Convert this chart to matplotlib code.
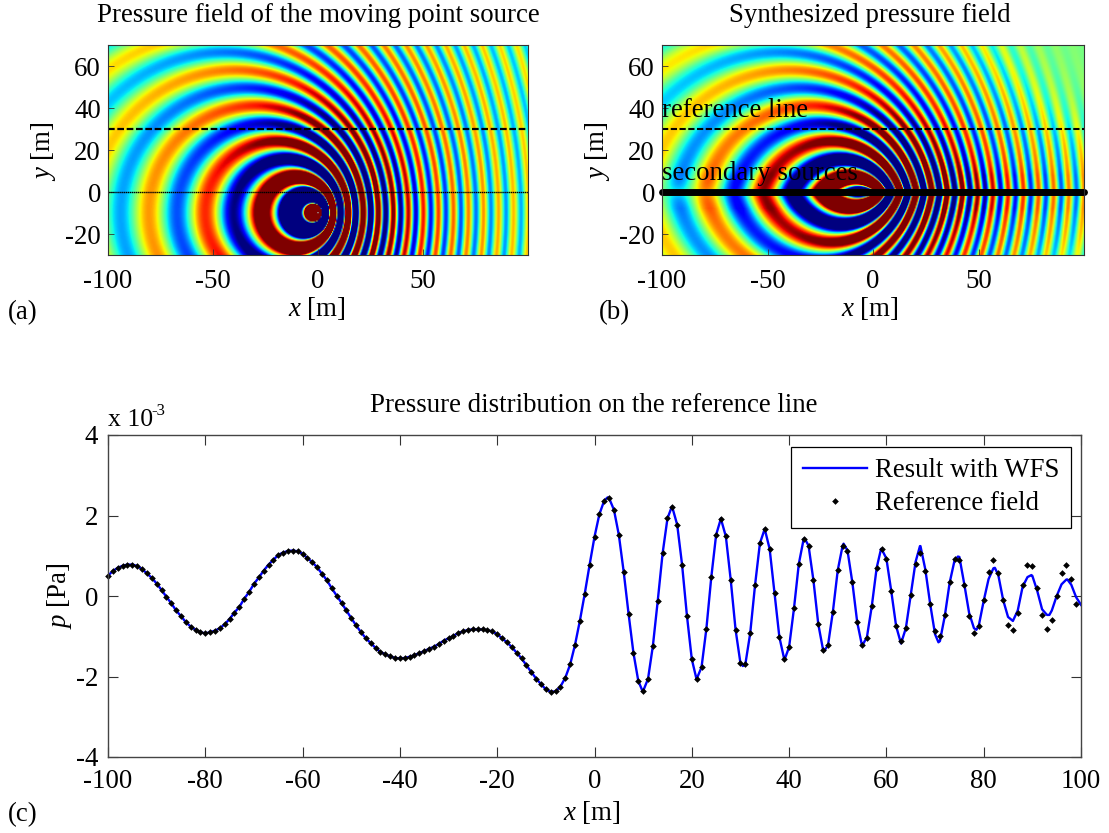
import matplotlib
matplotlib.use('Agg')
import matplotlib.pyplot as plt
import numpy as np
from math import erf

W, H = 1109, 833

# panel (c), in units of 1e-3 Pa, one marker per metre from x=-100
reference_y = [
    .505, .62, .70, .75, .78, .78, .745, .67, .56, .45,
    .31, .15, -.02, -.18, -.36, -.50, -.65, -.76, -.84, -.90,
    -.93, -.90, -.86, -.80, -.70, -.57, -.41, -.27, -.07, .10,
    .30, .46, .63, .78, .90, 1.02, 1.08, 1.12, 1.13, 1.11,
    1.05, .94, .84, .71, .55, .39, .19, .01, -.17, -.36,
    -.55, -.73, -.90, -1.05, -1.17, -1.29, -1.39, -1.45, -1.50, -1.54,
    -1.55, -1.54, -1.51, -1.47, -1.42, -1.37, -1.31, -1.26, -1.19, -1.11,
    -1.05, -.99, -.92, -.88, -.84, -.83, -.83, -.83, -.85, -.88,
    -.95, -1.05, -1.15, -1.27, -1.41, -1.55, -1.72, -1.89, -2.05, -2.19,
    -2.32, -2.38, -2.37, -2.25, -2.03, -1.70, -1.21, -.61, .06, .78,
    1.47, 2.03, 2.37, 2.43, 2.14, 1.52, .60, -.44, -1.41, -2.11,
    -2.36, -2.06, -1.24, -.12, 1.06, 1.93, 2.20, 1.77, .78, -.49,
    -1.57, -2.06, -1.77, -.81, .46, 1.52, 1.91, 1.48, .40, -.84,
    -1.67, -1.70, -.93, .27, 1.31, 1.66, 1.17, .08, -1.02, -1.57,
    -1.27, -.31, .80, 1.42, 1.25, .39, -.70, -1.35, -1.22, -.39,
    .64, 1.25, 1.13, .34, -.65, -1.22, -1.04, -.25, .69, 1.16,
    .93, .12, -.75, -1.13, -.80, .02, .80, 1.06, .63, -.20,
    -.88, -.99, -.47, .34, .91, .89, .27, -.50, -.93, -.75,
    -.10, .60, .89, .58, -.11, -.72, -.85, -.41, .28, .77,
    .74, .20, -.46, -.81, -.60, 0, .58, .76, .42, -.21,
]
reference_x = list(range(-100, 100))

# blue curve: follows the markers up to x=52, then its own values
wfs_right_x = list(range(53, 101))
wfs_right_y = [
    .34, -.65, -1.24, -1.02, -.25, .70, 1.17, .93, .12, -.75,
    -1.18, -.80, .02, .85, 1.24, .66, -.20, -.95, -1.12, -.50,
    .33, .88, .97, .30, -.42, -.80, -.73, -.12, .42, .69,
    .52, -.10, -.52, -.62, -.36, .23, .47, .50, .13, -.33,
    -.47, -.36, 0, .29, .41, .28, -.03, -.22,
]
# extra readings at the turning points between whole metres
wfs_peak_x = [2.7, 9.9, 15.9, 21, 26, 30.5, 35, 39.1, 43.2, 47.2, 51.2, 58.9, 66.9, 70.7, 74.7, 78.5, 82.3, 86, 89.8, 93.5, 97.2]
wfs_peak_y = [2.45, -2.37, 2.22, -2.08, 1.93, -1.74, 1.67, -1.57, 1.43, -1.37, 1.30, 1.17, 1.24, -1.15, .98, -.84, .70, -.62, .52, -.47, .41]

x_ticks_top = [-100, -50, 0, 50]
y_ticks_top = [-20, 0, 20, 40, 60]
x_ticks_c = [-100, -80, -60, -40, -20, 0, 20, 40, 60, 80, 100]
y_ticks_c = [-4, -2, 0, 2, 4]

# wave parameters fitted to the rings and crests seen in the picture
src_x, src_y = 0.0, -10.0
mach = 0.578
wavelength = 17.0
crest_offset = 0.3
amp = 80.0
color_limit = 2.0
ref_line_y = 30.0


def moving_source(x, y):
    dx = x - src_x
    dy = y - src_y
    a = 1 - mach ** 2
    root = np.sqrt(dx ** 2 + a * dy ** 2)
    r = (mach * dx + root) / a
    return r, amp * np.cos(2 * np.pi * (r - crest_offset) / wavelength) / root


def synthesized(x, y):
    # mirrored about the secondary sources, amplitude fades where the array ends
    yy = np.maximum(np.abs(y), 0.3)
    r, p = moving_source(x, yy)
    xe = src_x - mach * r
    x0 = xe + (x - xe) * abs(src_y) / (abs(src_y) + yy)
    yg = np.maximum(yy, 8)
    gain = np.sqrt(ref_line_y / (ref_line_y + abs(src_y))) * np.sqrt((yg + abs(src_y)) / yg)
    taper = 0.5 * (1 + np.vectorize(erf)((x0 + 90) / 25))
    return p * gain * taper


plt.rcParams['font.family'] = ['Liberation Serif']
plt.rcParams['mathtext.fontset'] = 'custom'
plt.rcParams['mathtext.rm'] = 'Liberation Serif'
plt.rcParams['mathtext.it'] = 'Liberation Serif:italic'
plt.rcParams['axes.unicode_minus'] = False
plt.rcParams['font.size'] = 19.4


def axes_px(fig, left, top, right, bottom):
    return fig.add_axes([left / W, 1 - bottom / H, (right - left) / W, (bottom - top) / H])


def text_px(fig, x, y, s, **kw):
    fig.text(x / W, 1 - y / H, s, **kw)


fig = plt.figure(figsize=(W / 100, H / 100), dpi=100)

gx = np.arange(-100, 100.01, 0.5)
gy = np.arange(-30, 70.01, 0.5)
X, Y = np.meshgrid(gx, gy)

ax_a = axes_px(fig, 108, 45, 528, 255)
ax_b = axes_px(fig, 662, 45, 1084, 255)
for ax, field in ((ax_a, moving_source(X, Y)[1]), (ax_b, synthesized(X, Y))):
    ax.imshow(field, cmap='jet', vmin=-color_limit, vmax=color_limit, origin='lower',
              extent=(-100, 100, -30, 70), aspect='auto', interpolation='bilinear')
    ax.set_xlim(-100, 100)
    ax.set_ylim(-30, 70)
    ax.set_xticks(x_ticks_top)
    ax.set_yticks(y_ticks_top)
    ax.tick_params(axis='x', direction='in', length=4, width=.6, color='#333333', pad=10)
    ax.tick_params(axis='y', direction='in', length=4, width=.6, color='#333333', pad=5)
    for s in ax.spines.values():
        s.set_linewidth(.8)
        s.set_color('#333333')

ax_a.plot([-100, 100], [ref_line_y, ref_line_y], color='k', lw=1.6, dashes=(3, 1.2))
ax_a.plot([-100, 100], [0, 0], color='k', lw=1, dashes=(1, .4))
ax_b.plot([-100, 100], [ref_line_y, ref_line_y], color='k', lw=1.5, dashes=(3, 1.2))
ax_b.plot([-100, 100], [0, 0], color='k', lw=5, solid_capstyle='round', clip_on=False)
ax_b.text(-100, 35.5, 'reference line', va='baseline', ha='left')
ax_b.text(-100, 5.5, 'secondary sources', va='baseline', ha='left')

text_px(fig, 318, 15, 'Pressure field of the moving point source', ha='center', va='center')
text_px(fig, 870, 15, 'Synthesized pressure field', ha='center', va='center')
text_px(fig, 317, 309, r'$\mathit{x}$ [m]', ha='center', va='center')
text_px(fig, 870, 309, r'$\mathit{x}$ [m]', ha='center', va='center')
text_px(fig, 44, 151, r'$\mathit{y}$ [m]', ha='center', va='center', rotation=90)
text_px(fig, 597, 151, r'$\mathit{y}$ [m]', ha='center', va='center', rotation=90)
text_px(fig, 23, 313, '(a)', ha='center', va='center')
text_px(fig, 614, 313, '(b)', ha='center', va='center')
text_px(fig, 23, 815, '(c)', ha='center', va='center')

ax_c = axes_px(fig, 108, 435, 1081, 757)
wfs_x = reference_x[:153] + wfs_right_x + wfs_peak_x
wfs_y = reference_y[:153] + wfs_right_y + wfs_peak_y
order = np.argsort(wfs_x)
ax_c.plot(np.array(wfs_x)[order], np.array(wfs_y)[order], color='#0000ff', lw=1.7, label='Result with WFS')
ax_c.plot(reference_x, reference_y, linestyle='none', marker='D', color='k', ms=3.4, mew=0,
          clip_on=False, label='Reference field')
ax_c.set_xlim(-100, 100)
ax_c.set_ylim(-4, 4)
ax_c.set_xticks(x_ticks_c)
ax_c.set_yticks(y_ticks_c)
ax_c.tick_params(axis='y', direction='in', length=7, width=.8, color='#333333', right=True, pad=7)
ax_c.tick_params(axis='x', direction='in', length=7, width=.8, color='#333333', top=True, pad=9)
for s in ax_c.spines.values():
    s.set_linewidth(1)
    s.set_color('#444444')
ax_c.legend(loc='upper right', bbox_to_anchor=(963 / 973, 1 - 12 / 322), borderaxespad=0,
            fancybox=False, edgecolor='k', framealpha=1, handlelength=2.4,
            labelspacing=.3, borderpad=.42, handletextpad=.3).get_frame().set_linewidth(.9)

text_px(fig, 594, 405, 'Pressure distribution on the reference line', ha='center', va='center')
text_px(fig, 108, 420, 'x 10', ha='left', va='center', fontsize=18.5)
text_px(fig, 151, 411, '-3', ha='left', va='center', fontsize=12)
text_px(fig, 592, 812, r'$\mathit{x}$ [m]', ha='center', va='center')
text_px(fig, 60, 596, r'$\mathit{p}$ [Pa]', ha='center', va='center', rotation=90)

fig.savefig('out.png', dpi=100)
